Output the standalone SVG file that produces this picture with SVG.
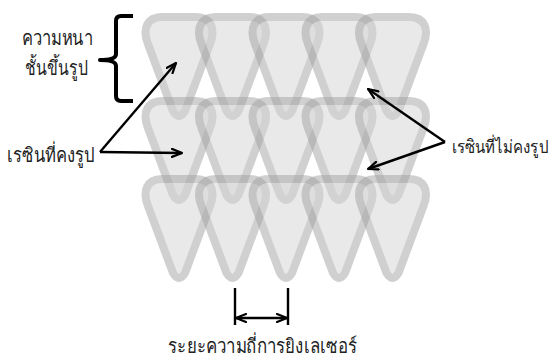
<svg xmlns="http://www.w3.org/2000/svg" width="557" height="361" viewBox="0 0 557 361">
  <defs>
    <!-- rounded inverted triangle: one printed resin unit, top edge at y=0 -->
    <path id="drop" d="M -17,0 H 17 C 32,0 37,12 31,27 L 6,94 Q 0,104 -6,94 L -31,27 C -37,12 -32,0 -17,0 Z"/>
    <marker id="head" viewBox="0 0 12 10" refX="11" refY="5" markerWidth="12" markerHeight="10" markerUnits="userSpaceOnUse" orient="auto-start-reverse">
      <path d="M 1,1 L 11,5 L 1,9" fill="none" stroke="#000" stroke-width="2.2" stroke-linecap="round" stroke-linejoin="round"/>
    </marker>
  </defs>
  <style>
    .unit { opacity: 0.5; }
    .unit use { fill: #d4d4d4; stroke: #a2a2a2; stroke-width: 8; stroke-linejoin: round; }
    .lbl { font-family: "Noto Sans", "DejaVu Sans", sans-serif; font-size: 20px; font-weight: 300; fill: #222; }
    .line { fill: none; stroke: #000; stroke-width: 2.4; }
  </style>
  <rect width="557" height="361" fill="#fff"/>

  <!-- layer 1 -->
  <g id="r1c1" class="unit"><use href="#drop" x="179" y="17"/></g>
  <g id="r1c2" class="unit"><use href="#drop" x="232.5" y="17"/></g>
  <g id="r1c3" class="unit"><use href="#drop" x="286" y="17"/></g>
  <g id="r1c4" class="unit"><use href="#drop" x="339" y="17"/></g>
  <g id="r1c5" class="unit"><use href="#drop" x="392.5" y="17"/></g>
  <!-- layer 2 -->
  <g id="r2c1" class="unit"><use href="#drop" x="179" y="101"/></g>
  <g id="r2c2" class="unit"><use href="#drop" x="232.5" y="101"/></g>
  <g id="r2c3" class="unit"><use href="#drop" x="286" y="101"/></g>
  <g id="r2c4" class="unit"><use href="#drop" x="339" y="101"/></g>
  <g id="r2c5" class="unit"><use href="#drop" x="392.5" y="101"/></g>
  <!-- layer 3 -->
  <g id="r3c1" class="unit"><use href="#drop" x="179" y="179"/></g>
  <g id="r3c2" class="unit"><use href="#drop" x="232.5" y="179"/></g>
  <g id="r3c3" class="unit"><use href="#drop" x="286" y="179"/></g>
  <g id="r3c4" class="unit"><use href="#drop" x="339" y="179"/></g>
  <g id="r3c5" class="unit"><use href="#drop" x="392.5" y="179"/></g>

  <!-- layer thickness brace -->
  <g id="thickness">
    <path d="M133,16 H121 Q116,16 116,21 V54 Q116,60 100,60 Q116,60 116,66 V96 Q116,101 121,101 H133" fill="none" stroke="#000" stroke-width="4" stroke-linejoin="round"/>
    <text class="lbl" x="22" y="45" textLength="71" lengthAdjust="spacingAndGlyphs">ความหนา</text>
    <text class="lbl" x="25" y="75" textLength="63" lengthAdjust="spacingAndGlyphs">ชั้นขึ้นรูป</text>
  </g>

  <g id="cured-label">
    <text class="lbl" x="7" y="162" textLength="88" lengthAdjust="spacingAndGlyphs">เรซินที่คงรูป</text>
  </g>
  <g id="uncured-label">
    <text class="lbl" x="548" y="153" text-anchor="end" style="font-size:18px" textLength="96" lengthAdjust="spacingAndGlyphs">เรซินที่ไม่คงรูป</text>
  </g>
  <g id="pitch-label">
    <text class="lbl" x="168" y="353" textLength="189" lengthAdjust="spacingAndGlyphs">ระยะความถี่การยิงเลเซอร์</text>
  </g>

  <!-- connectors -->
  <g id="connectors">
    <line class="line" x1="100" y1="152" x2="176" y2="63" marker-end="url(#head)"/>
    <line class="line" x1="100" y1="152" x2="182" y2="153" marker-end="url(#head)"/>
    <line class="line" x1="445" y1="142" x2="368" y2="89" marker-end="url(#head)"/>
    <line class="line" x1="445" y1="142" x2="368" y2="169" marker-end="url(#head)"/>
    <line class="line" x1="235" y1="288" x2="235" y2="325"/>
    <line class="line" x1="288" y1="288" x2="288" y2="325"/>
    <line class="line" x1="236" y1="318" x2="287" y2="318" marker-start="url(#head)" marker-end="url(#head)"/>
  </g>
</svg>
